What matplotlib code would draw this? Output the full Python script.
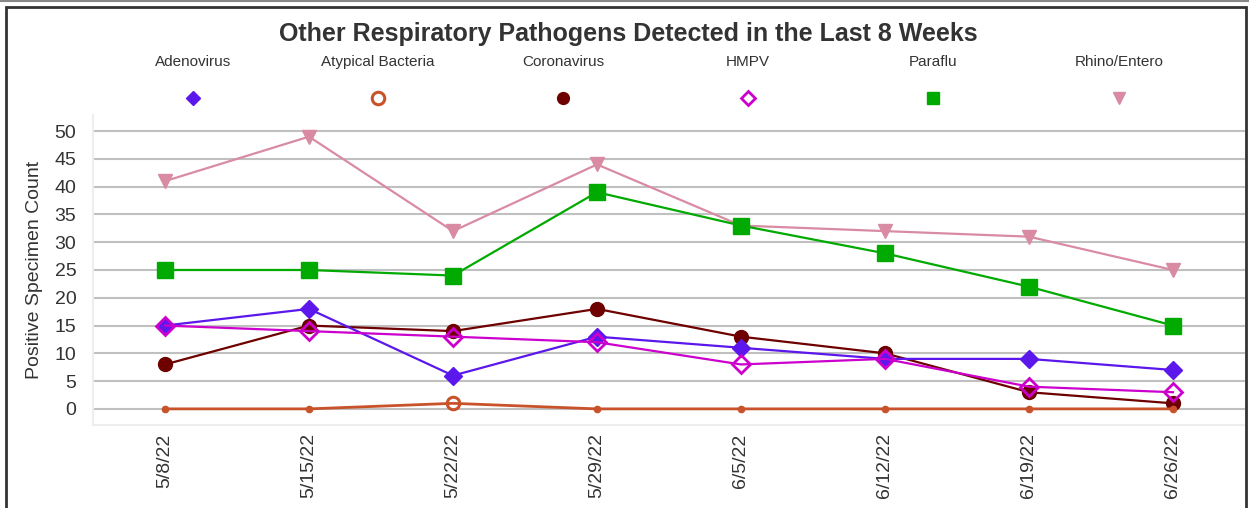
import numpy as np
import matplotlib
matplotlib.use("Agg")
import matplotlib.pyplot as plt
from matplotlib.lines import Line2D
from matplotlib.patches import Rectangle

plt.rcParams['font.family'] = ['Liberation Sans', 'DejaVu Sans']

weeks = ["5/8/22", "5/15/22", "5/22/22", "5/29/22", "6/5/22", "6/12/22", "6/19/22", "6/26/22"]

adenovirus = [15, 18, 6, 13, 11, 9, 9, 7]
atypical = [0, 0, 1, 0, 0, 0, 0, 0]
coronavirus = [8, 15, 14, 18, 13, 10, 3, 1]
hmpv = [15, 14, 13, 12, 8, 9, 4, 3]
paraflu = [25, 25, 24, 39, 33, 28, 22, 15]
rhino = [41, 49, 32, 44, 33, 32, 31, 25]

names = ["Adenovirus", "Atypical Bacteria", "Coronavirus", "HMPV", "Paraflu", "Rhino/Entero"]
colors = ["#5B17EC", "#C8522A", "#6E0000", "#CC00CC", "#00AA00", "#D88BA2"]

W, H = 1249, 508
fig = plt.figure(figsize=(W / 100, H / 100), dpi=100)
ax = fig.add_axes([93 / W, 83 / H, (1245 - 93) / W, (425 - 115) / H])

x = np.arange(len(weeks))

# draw order: back to front
ax.plot(x, rhino, color=colors[5], lw=1.6, marker='v', ms=10, zorder=3)
ax.plot(x, paraflu, color=colors[4], lw=1.6, marker='s', ms=11, zorder=3)
ax.plot(x, coronavirus, color=colors[2], lw=1.6, marker='o', ms=10, zorder=4)
ax.plot(x, adenovirus, color=colors[0], lw=1.6, marker='D', ms=9.5, zorder=4)
ax.plot(x, hmpv, color=colors[3], lw=1.6, marker='D', ms=9.5, mfc='none', mew=2, zorder=5)

atyp = np.array(atypical)
ax.plot(x, atyp, color=colors[1], lw=2, zorder=5)
ax.plot(x[atyp == 0], atyp[atyp == 0], ls='none', marker='o', ms=4.5, color=colors[1], zorder=6)
ax.plot(x[atyp > 0], atyp[atyp > 0], ls='none', marker='o', ms=9, mfc='none', mew=2.2,
        color=colors[1], zorder=6)

ax.set_xlim(-0.5, len(weeks) - 0.5)
ax.set_ylim(-2.9, 52.9)
ax.set_yticks(range(0, 51, 5))
ax.set_xticks(x)
ax.set_xticklabels(weeks, rotation=90)
ax.tick_params(axis='both', length=0, labelsize=14, labelcolor='#333333')
ax.tick_params(axis='x', pad=6)
ax.tick_params(axis='y', pad=12)
ax.yaxis.grid(True, color='#C0C0C0', lw=1.5)
ax.set_axisbelow(True)
for s in ['top', 'right']:
    ax.spines[s].set_visible(False)
for s in ['left', 'bottom']:
    ax.spines[s].set_color('#EEEEEE')
    ax.spines[s].set_linewidth(1.5)
ax.set_ylabel("Positive Specimen Count", fontsize=14, color='#333333', labelpad=8)

fig.text(628 / W, 1 - 34 / H, "Other Respiratory Pathogens Detected in the Last 8 Weeks",
         ha='center', va='center', fontsize=18, fontweight='bold', color='#333333')

# legend: label above marker
leg_x = [193, 378, 563, 748, 933, 1119]
leg_markers = [dict(marker='D', ms=7),
               dict(marker='o', ms=9, mfc='none', mew=2.2),
               dict(marker='o', ms=8.5),
               dict(marker='D', ms=7.5, mfc='none', mew=2),
               dict(marker='s', ms=8.5),
               dict(marker='v', ms=8.5)]
for name, c, lx, mk in zip(names, colors, leg_x, leg_markers):
    fig.text(lx / W, 1 - 62 / H, name, ha='center', va='center', fontsize=11, color='#333333')
    fig.add_artist(Line2D([lx / W], [1 - 98 / H], transform=fig.transFigure, color=c, ls='none', **mk))

# outer frame
fig.add_artist(Line2D([0, 1], [1 - 1 / H, 1 - 1 / H], transform=fig.transFigure, color='#888888', lw=1.5))
fig.add_artist(Rectangle((6 / W, -0.05), (1246 - 6) / W, (H - 7) / H + 0.05, transform=fig.transFigure,
                         fill=False, ec='#333333', lw=2))

fig.savefig("out.png", dpi=100)
